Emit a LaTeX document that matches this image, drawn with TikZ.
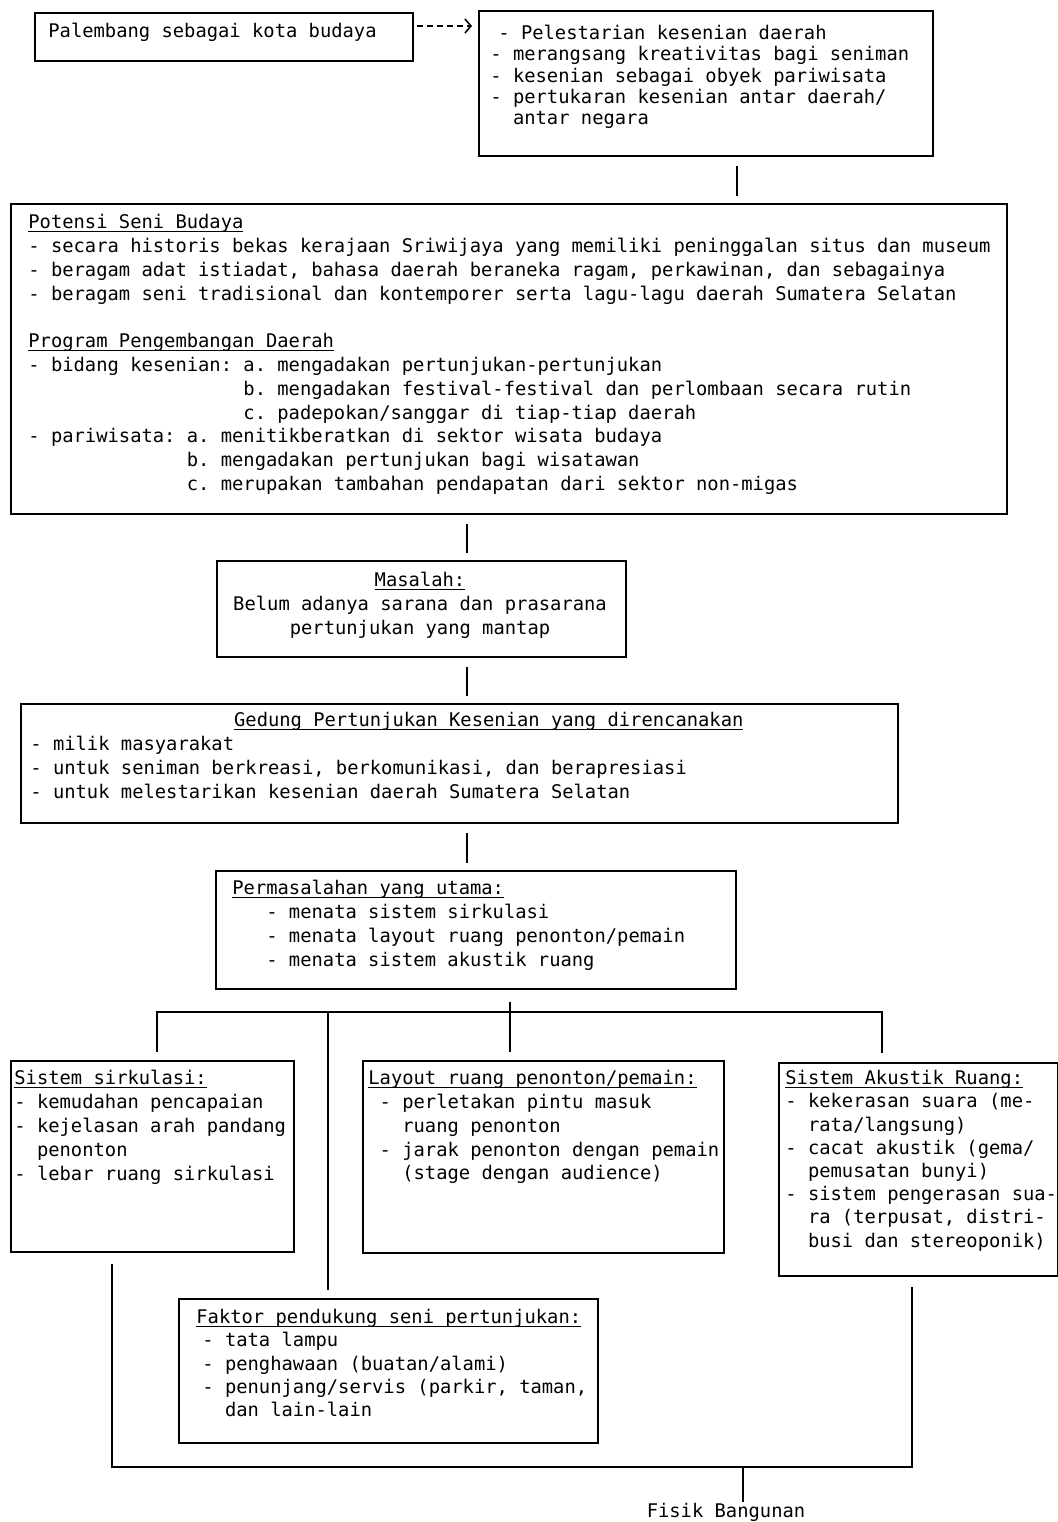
\documentclass[tikz,border=0pt]{standalone}
\usepackage{fontspec}
\setmonofont{DejaVu Sans Mono}
\usepackage{tikz}
\usetikzlibrary{arrows.meta}

\newcommand{\judul}[1]{\setbox0\hbox{#1}\rlap{\rule[-1.8pt]{\wd0}{0.7pt}}\box0}
\newcommand{\spasi}[1]{\hspace*{#1\fontcharwd\font`x}}
\newcommand{\siapkan}{
    \coordinate (sumbu) at (467,0);
    \coordinate (kanan) at (737,0);
    \coordinate (tengah) at (510,1012);
    \coordinate (cabang) at (328,1012);
    \coordinate (kiriAtas) at (157,1012);
    \coordinate (kananAtas) at (882,1012);
    \coordinate (kiriBawah) at (112,1467);
    \coordinate (kananBawah) at (912,1467);
    \coordinate (turun) at (743,1467);
}

\tikzset{
    kotak/.style 2 args={draw, line width=1pt, anchor=north west, inner sep=0pt,
        minimum width=#1*0.5pt, minimum height=#2*0.5pt},
    tulisan/.style={anchor=north west, align=left, inner sep=0pt},
    garis/.style={line width=0.8pt},
    sela/.style={garis, shorten <=4.5pt, shorten >=3.5pt},
    panah/.style={garis, dash pattern=on 3pt off 2pt, shorten >=3pt,
        -{Straight Barb[length=3pt,width=7pt]}},
    every node/.style={font=\ttfamily\fontsize{9.4}{11.9}\selectfont}
}

\begin{document}
\begin{tikzpicture}[x=0.5pt,y=-0.5pt]
    \fill[white] (0,0) rectangle (1058,1522);
    \useasboundingbox (0,0) rectangle (1058,1522);
    \siapkan;

    % kotak-kotak
    \node[kotak={378}{48}]  (pal) at (34,12) {};
    \node[kotak={454}{145}] (tuj) at (478,10) {};
    \node[kotak={996}{310}] (pot) at (10,203) {};
    \node[kotak={409}{96}]  (mas) at (216,560) {};
    \node[kotak={877}{119}] (ged) at (20,703) {};
    \node[kotak={520}{118}] (per) at (215,870) {};
    \node[kotak={283}{191}] (sir) at (10,1060) {};
    \node[kotak={361}{192}] (lay) at (362,1060) {};
    \node[kotak={279}{213}] (aku) at (778,1062) {};
    \node[kotak={419}{144}] (fak) at (178,1298) {};

    % isi
    \node[tulisan] (palT) at (48,23) {Palembang sebagai kota budaya};
    \node[tulisan, font=\ttfamily\fontsize{9.4}{10.6}\selectfont] (tujT) at (490,25)
        {\hspace*{4pt}- Pelestarian kesenian daerah\\
         - merangsang kreativitas bagi seniman\\
         - kesenian sebagai obyek pariwisata\\
         - pertukaran kesenian antar daerah/\\
         \spasi{2}antar negara};
    \node[tulisan] (potT) at (28,214)
        {\judul{Potensi Seni Budaya}\\
         - secara historis bekas kerajaan Sriwijaya yang memiliki peninggalan situs dan museum\\
         - beragam adat istiadat, bahasa daerah beraneka ragam, perkawinan, dan sebagainya\\
         - beragam seni tradisional dan kontemporer serta lagu-lagu daerah Sumatera Selatan\\[11.9pt]
         \judul{Program Pengembangan Daerah}\\
         - bidang kesenian: a. mengadakan pertunjukan-pertunjukan\\
         \spasi{19}b. mengadakan festival-festival dan perlombaan secara rutin\\
         \spasi{19}c. padepokan/sanggar di tiap-tiap daerah\\
         - pariwisata: a. menitikberatkan di sektor wisata budaya\\
         \spasi{14}b. mengadakan pertunjukan bagi wisatawan\\
         \spasi{14}c. merupakan tambahan pendapatan dari sektor non-migas};
    \node[tulisan, anchor=north, align=center] (masT) at (420,572)
        {\judul{Masalah:}\\
         Belum adanya sarana dan prasarana\\
         pertunjukan yang mantap};
    \node[tulisan] (gedT) at (30,712)
        {\spasi{18}\judul{Gedung Pertunjukan Kesenian yang direncanakan}\\
         - milik masyarakat\\
         - untuk seniman berkreasi, berkomunikasi, dan berapresiasi\\
         - untuk melestarikan kesenian daerah Sumatera Selatan};
    \node[tulisan] (perT) at (232,880)
        {\judul{Permasalahan yang utama:}\\
         \spasi{3}- menata sistem sirkulasi\\
         \spasi{3}- menata layout ruang penonton/pemain\\
         \spasi{3}- menata sistem akustik ruang};
    \node[tulisan] (sirT) at (14,1070)
        {\judul{Sistem sirkulasi:}\\
         - kemudahan pencapaian\\
         - kejelasan arah pandang\\
         \spasi{2}penonton\\
         - lebar ruang sirkulasi};
    \node[tulisan] (layT) at (368,1070)
        {\judul{Layout ruang penonton/pemain:}\\
         \spasi{1}- perletakan pintu masuk\\
         \spasi{3}ruang penonton\\
         \spasi{1}- jarak penonton dengan pemain\\
         \spasi{3}(stage dengan audience)};
    \node[tulisan, font=\ttfamily\fontsize{9.4}{11.6}\selectfont] (akuT) at (785,1070)
        {\judul{Sistem Akustik Ruang:}\\
         - kekerasan suara (me-\\
         \spasi{2}rata/langsung)\\
         - cacat akustik (gema/\\
         \spasi{2}pemusatan bunyi)\\
         - sistem pengerasan sua-\\
         \spasi{2}ra (terpusat, distri-\\
         \spasi{2}busi dan stereoponik)};
    \node[tulisan, font=\ttfamily\fontsize{9.4}{11.6}\selectfont] (fakT) at (196,1309)
        {\judul{Faktor pendukung seni pertunjukan:}\\
         \hspace*{3pt}- tata lampu\\
         \hspace*{3pt}- penghawaan (buatan/alami)\\
         \hspace*{3pt}- penunjang/servis (parkir, taman,\\
         \hspace*{3pt}\spasi{2}dan lain-lain};
    \node[anchor=base, inner sep=0pt] (fisik) at (726,1517) {Fisik Bangunan};

    % penghubung
    \coordinate (panahA) at ([yshift=5.5pt]pal.east);
    \draw[panah, shorten <=1.5pt] (panahA) -- (panahA -| tuj.west);
    \draw[sela] (tuj.south -| kanan) -- (pot.north -| kanan);
    \draw[sela] (pot.south -| sumbu) -- (mas.north -| sumbu);
    \draw[sela] (mas.south -| sumbu) -- (ged.north -| sumbu);
    \draw[sela] (ged.south -| sumbu) -- (per.north -| sumbu);

    \draw[garis, shorten <=4pt, shorten >=4.5pt] (sir.north -| kiriAtas) -- (kiriAtas)
        -- (kananAtas) -- (aku.north -| kananAtas);
    \draw[garis, shorten <=6pt, shorten >=4pt] (per.south -| tengah) -- (lay.north -| tengah);
    \draw[garis, shorten >=4pt] (cabang) -- (fak.north -| cabang);
    \draw[garis, shorten <=5.5pt, shorten >=5pt] (sir.south -| kiriBawah) -- (kiriBawah)
        -- (kananBawah) -- (aku.south -| kananBawah);
    \draw[garis] (turun) -- (fisik.north -| turun);
\end{tikzpicture}
\end{document}
